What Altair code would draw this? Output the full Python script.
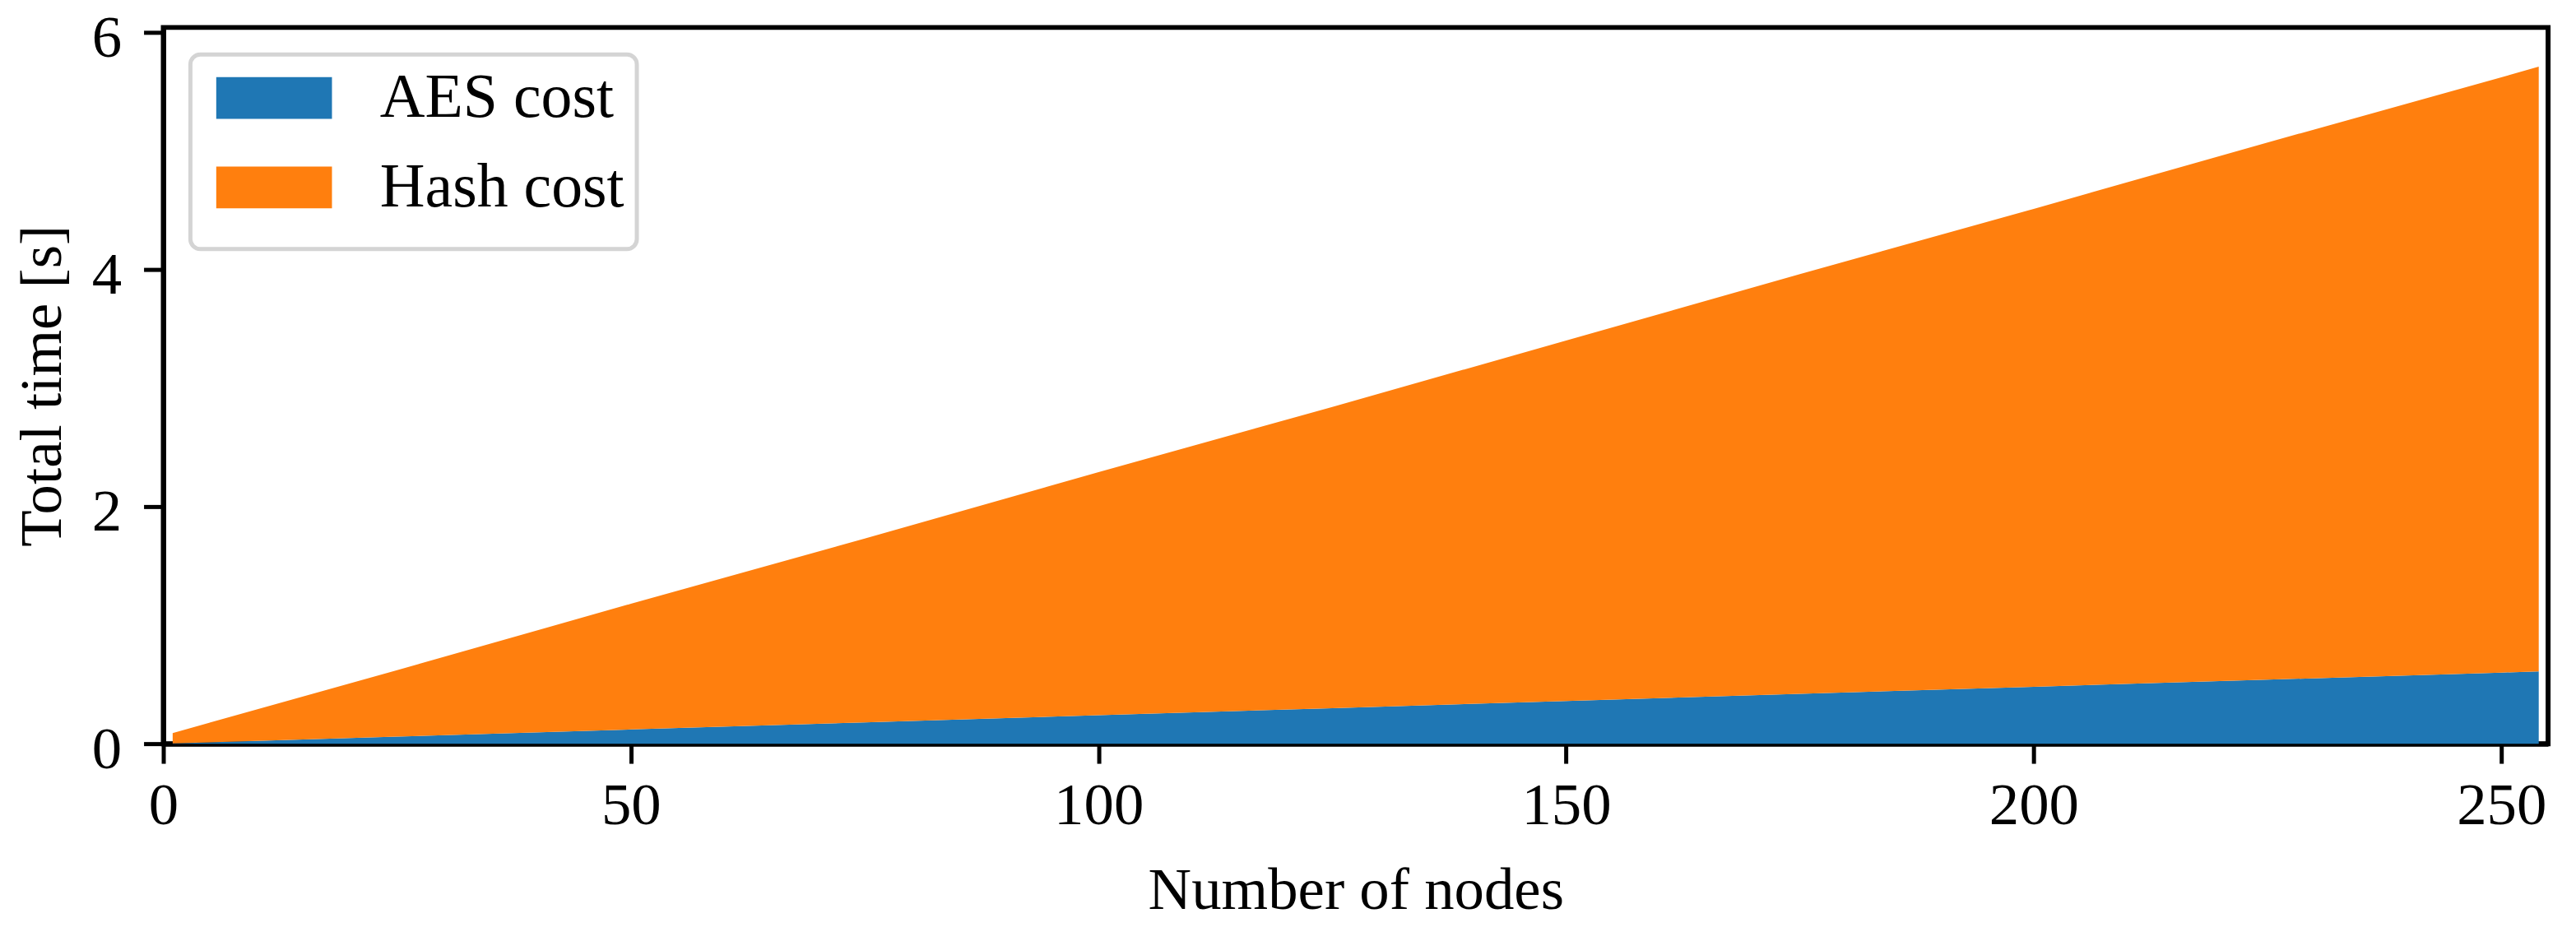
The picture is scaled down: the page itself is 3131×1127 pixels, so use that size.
import altair as alt
import pandas as pd

# Data
nodes = [1, 25, 50, 75, 100, 125, 150, 175, 200, 225, 250, 254]
aes_cost = [0.002, 0.06, 0.12, 0.18, 0.24, 0.30, 0.36, 0.42, 0.48, 0.54, 0.60, 0.61]
hash_cost = [0.088, 0.56, 1.06, 1.55, 2.05, 2.54, 3.04, 3.54, 4.03, 4.53, 5.02, 5.10]
series = ["AES cost", "Hash cost"]
colors = ["#1f77b4", "#ff7f0e"]
x_ticks = [0, 50, 100, 150, 200, 250]
y_ticks = [0, 2, 4, 6]

rows = []
for i, n in enumerate(nodes):
    rows.append({"nodes": n, "cost": aes_cost[i], "series": series[0], "ord": 0})
    rows.append({"nodes": n, "cost": hash_cost[i], "series": series[1], "ord": 1})
df = pd.DataFrame(rows)

FONT = "Liberation Serif"
FS = 73

chart = alt.Chart(df).mark_area(interpolate="linear").encode(
    x=alt.X("nodes:Q", title="Number of nodes",
            scale=alt.Scale(domain=[0, 255], nice=False, zero=False),
            axis=alt.Axis(values=x_ticks, format="d", labelFlush=False)),
    y=alt.Y("cost:Q", title="Total time [s]", stack="zero",
            scale=alt.Scale(domain=[0, 6.04], nice=False),
            axis=alt.Axis(values=y_ticks, format="d", labelOffset=7)),
    color=alt.Color("series:N", title=" ",
                    scale=alt.Scale(domain=series, range=colors),
                    legend=alt.Legend(orient="none", legendX=33, legendY=33,
                                      titleOrient="bottom", titleFontSize=10,
                                      titlePadding=12,
                                      symbolType="M-2.765,-1H2.765V1H-2.765Z",
                                      symbolSize=2601, symbolStrokeWidth=0,
                                      symbolOpacity=1, symbolOffset=49,
                                      labelFont=FONT, labelFontSize=76,
                                      labelLimit=0, labelColor="black",
                                      labelOffset=91, rowPadding=33,
                                      padding=15, strokeColor="#d4d4d4",
                                      cornerRadius=12)),
    order=alt.Order("ord:Q"),
).properties(
    width=2906, height=873,
    autosize=alt.AutoSizeParams(type="none"),
    padding={"left": 191, "top": 24, "right": 26, "bottom": 222},
).configure_view(
    stroke="black", strokeWidth=6
).configure_axis(
    grid=False,
    domainColor="black", domainWidth=6,
    tickColor="black", tickWidth=5, tickSize=24,
    labelFont=FONT, labelFontSize=FS, labelColor="black",
    titleFont=FONT, titleFontSize=FS, titleFontWeight="normal", titleColor="black",
).configure_axisX(
    labelPadding=16, titlePadding=30
).configure_axisY(
    labelPadding=27, titlePadding=23
).configure_legend(
    strokeWidth=5
)

chart.save("out.html", embed_options={"renderer": "svg", "actions": False})
